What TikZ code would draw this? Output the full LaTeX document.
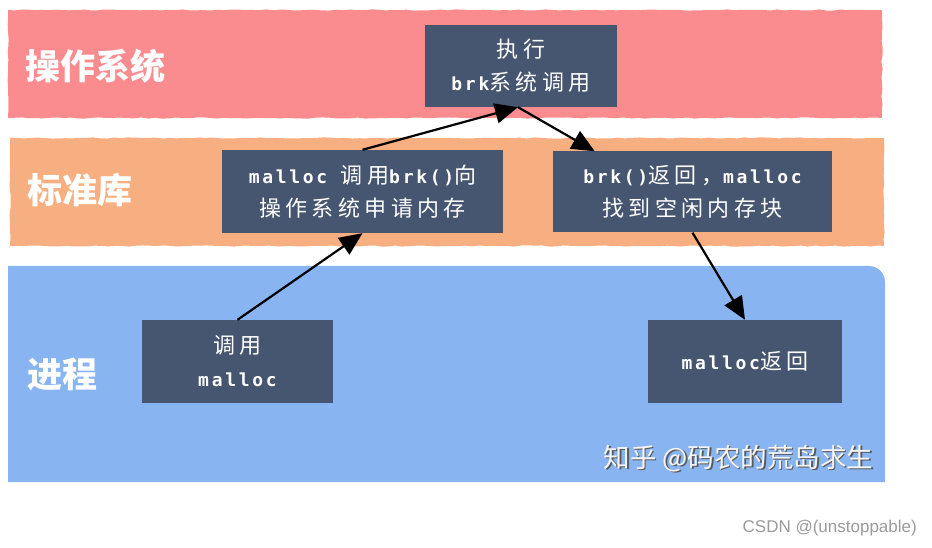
\documentclass[tikz,border=0pt]{standalone}
\usepackage{fontspec}
\setmainfont{Noto Sans CJK SC}
\newfontfamily\cjk{Noto Sans CJK SC}[LetterSpace=20]
\newfontfamily\cjkplain{Noto Sans CJK SC}
\newfontfamily\mono{DejaVu Sans Mono}[LetterSpace=15]
\newfontfamily\csdnfont{Liberation Sans}
\usetikzlibrary{arrows.meta,decorations.pathmorphing}
\newcommand\zh[1]{{\cjk\fontsize{22}{33}\selectfont #1}}
\newcommand\en[1]{{\mono\bfseries\fontsize{18}{33}\selectfont #1}}
\definecolor{bandred}{HTML}{FA8C8F}
\definecolor{bandorange}{HTML}{F7AE80}
\definecolor{bandblue}{HTML}{89B4F2}
\definecolor{boxslate}{HTML}{465570}
\definecolor{csdngray}{HTML}{9A9A9A}
\tikzset{
  band/.style={decorate,decoration={random steps,segment length=7pt,amplitude=0.6pt}},
  stepbox/.style={fill=boxslate,text=white,align=center,inner sep=0pt,
    font=\fontsize{18}{33}\selectfont},
  bandlabel/.style={text=white,anchor=west,inner sep=0pt,
    font=\cjkplain\bfseries\fontsize{35}{40}\selectfont},
  conn/.style={line width=2.2pt,-{Triangle[length=23pt,width=20pt]}}
}
\begin{document}
\begin{tikzpicture}[x=1pt,y=-1pt]
\pgfmathsetseed{7}
\useasboundingbox (0,0) rectangle (932,548);
% bands
\fill[bandred,band] (8,10) rectangle (882,118);
\fill[bandorange,band] (10,138) rectangle (884,246);
\fill[bandblue] (8,482) -- (8,266) [rounded corners=16pt] -- (885,266) [sharp corners] -- (885,482) -- cycle;
% band labels
\node[bandlabel] (lblos) at (25,66) {操作系统};
\node[bandlabel] (lbllib) at (27,190) {标准库};
\node[bandlabel] (lblproc) at (27,374) {进程};
% boxes
\node[stepbox,minimum width=192pt,minimum height=82pt] (os) at (521,66)
  {\zh{执行}\\\en{brk}\zh{系统调用}};
\node[stepbox,minimum width=281pt,minimum height=83pt] (lib1) at (362.5,191.5)
  {\en{malloc }\zh{调用}\en{brk()}\zh{向}\\\zh{操作系统申请内存}};
\node[stepbox,minimum width=279pt,minimum height=81pt] (lib2) at (692.5,192)
  {\en{brk()}\zh{返回，}\en{malloc}\\\zh{找到空闲内存块}};
\node[stepbox,minimum width=191pt,minimum height=83pt] (p1) at (237.5,361.5)
  {\zh{调用}\\\en{malloc}};
\node[stepbox,minimum width=194pt,minimum height=83pt] (p2) at (745,361.5)
  {\en{malloc}\zh{返回}};
% connectors
\draw[conn] (p1.north) -- (lib1.south);
\draw[conn] (lib1.north) -- ([xshift=-3pt]os.south);
\draw[conn] ([xshift=-3pt]os.south) -- ([xshift=42pt]lib2.north west);
\draw[conn] (lib2.south) -- (p2.north);
% watermark
\node[text=gray!70!black,anchor=east,inner sep=0pt,font=\cjkplain\fontsize{26.5}{30}\selectfont] (wmshadow) at (875,460) {知乎 @码农的荒岛求生};
\node[text=white!92!gray,anchor=east,inner sep=0pt,font=\cjkplain\fontsize{26.5}{30}\selectfont] (wm) at (873.5,458.5) {知乎 @码农的荒岛求生};
\node[text=csdngray,anchor=east,inner sep=0pt,font=\csdnfont\fontsize{17}{20}\selectfont] (csdn) at (917,528) {CSDN @(unstoppable)};
\end{tikzpicture}
\end{document}
